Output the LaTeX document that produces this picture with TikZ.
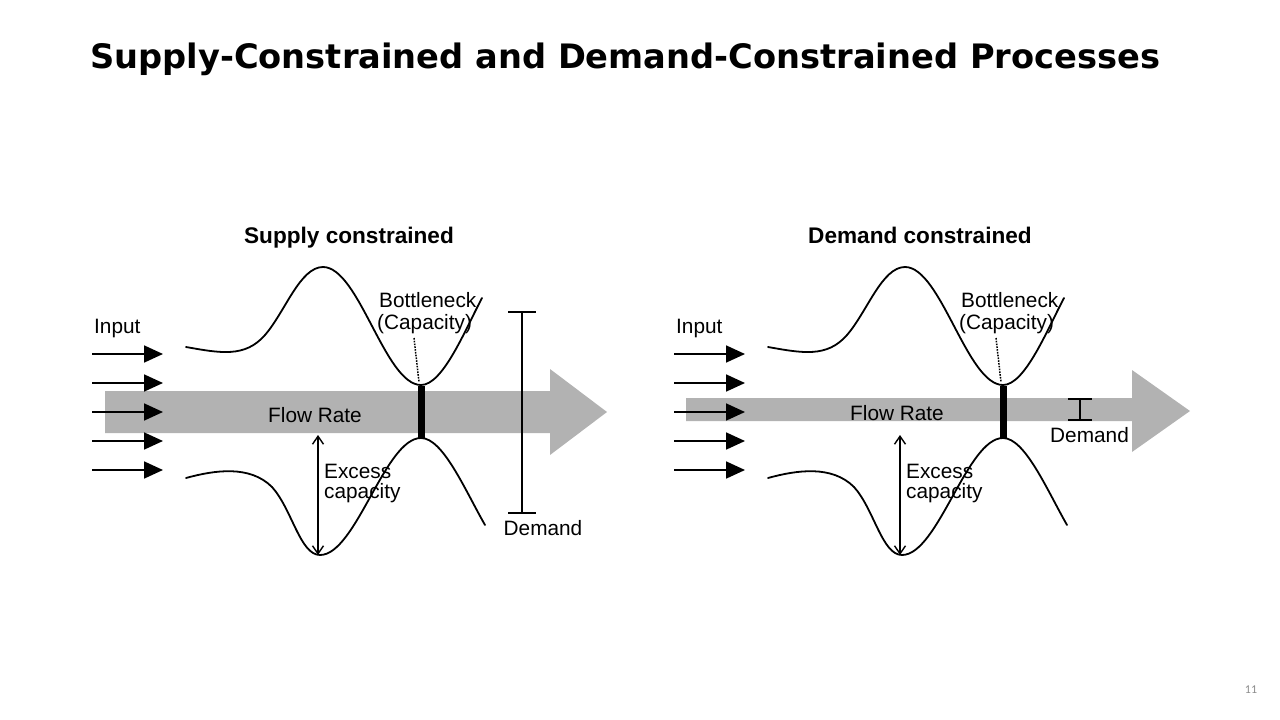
\documentclass[tikz,border=0pt]{standalone}
\usepackage{graphicx}
\usepackage{fontspec}
\setmainfont{Liberation Sans}
\newfontfamily\titlefont{DejaVu Sans}
\newfontfamily\numfont{Carlito}
\usetikzlibrary{arrows.meta}
\definecolor{flowgray}{RGB}{178,178,178}
\definecolor{pagegray}{RGB}{140,140,140}
\tikzset{
  lbl/.style={inner sep=0pt, font=\fontsize{20.8}{24}\selectfont},
  subttl/.style={anchor=base, inner sep=0pt, font=\bfseries\fontsize{22.6}{26}\selectfont},
  curve/.style={line width=1.8pt, line join=round, line cap=round},
  inarrow/.style={line width=1.8pt, -{Triangle[length=19pt,width=17pt]}},
  flowshape/.style={fill=flowgray, draw=none},
  barrier/.style={line width=7pt},
  dotline/.style={line width=1.5pt, dash pattern=on 1.6pt off 1.2pt},
  dblarrow/.style={line width=1.4pt, {Straight Barb[length=8pt,width=11pt]}-{Straight Barb[length=8pt,width=11pt]}},
  demandbar/.style={line width=1.8pt},
}
\begin{document}
\begin{tikzpicture}[x=1pt,y=-1pt]
\useasboundingbox (0,0) rectangle (1280,720);
% title
\node[anchor=base west, inner sep=0pt] (title) at (90,68.5)
  {\resizebox{1070pt}{!}{\titlefont\bfseries\fontsize{32}{38}\selectfont Supply-Constrained and Demand-Constrained Processes}};
\node[subttl] (stL) at (349,243) {Supply constrained};
\node[subttl] (stR) at (920,243) {Demand constrained};
% flow arrows
\fill[flowshape] (105,391) -- (550,391) -- (550,369) -- (607,412) -- (550,455) -- (550,433) -- (105,433) -- cycle;
\fill[flowshape] (686,398) -- (1132,398) -- (1132,370) -- (1190,411) -- (1132,452) -- (1132,421) -- (686,421) -- cycle;
\node[lbl, anchor=base] (flowL) at (315,422) {Flow Rate};
\node[lbl, anchor=base] (flowR) at (897,420) {Flow Rate};
% common parts of both panels
\foreach \off/\p in {0/L,582/R}{
\begin{scope}[xshift=\off pt]
  \foreach \yy [count=\k] in {354,383,412,441,470}{
    \coordinate (\p in\k s) at (92,\yy);
    \coordinate (\p in\k e) at (163,\yy);
    \draw[inarrow] (\p in\k s) -- (\p in\k e);
  }
  \node[lbl, anchor=base west] (\p input) at (94,333) {Input};
  % walls
  \draw[curve] (186,347) .. controls (220,353) and (245,358) .. (265,335)
     .. controls (285,312) and (300,267) .. (323,267)
     .. controls (359,267) and (385,385) .. (421,385)
     .. controls (443,385) and (465,330) .. (482,298);
  \draw[curve] (186,478) .. controls (215,470) and (250,465) .. (272,487)
     .. controls (292,509) and (300,555) .. (320,555)
     .. controls (356,555) and (385,438) .. (421,438)
     .. controls (443,438) and (465,490) .. (485,525);
  % bottleneck
  \coordinate (\p bt) at (421,386);
  \coordinate (\p bb) at (421,439);
  \draw[barrier] (\p bt) -- (\p bb);
  \node[lbl, anchor=base west] (\p bn1) at (379,307) {Bottleneck};
  \node[lbl, anchor=base west] (\p bn2) at (377,329) {(Capacity)};
  \coordinate (\p dot1) at (414,338);
  \coordinate (\p dot2) at (419,382);
  \draw[dotline] (\p dot1) -- (\p dot2);
  % excess capacity
  \coordinate (\p ex1) at (318,435);
  \coordinate (\p ex2) at (318,555);
  \draw[dblarrow] (\p ex1) -- (\p ex2);
  \node[lbl, anchor=base west] (\p exc1) at (324,478) {Excess};
  \node[lbl, anchor=base west] (\p exc2) at (324,498) {capacity};
\end{scope}
}
% demand, left
\coordinate (dLt) at (522,312);
\coordinate (dLb) at (522,513);
\draw[demandbar] (dLt) -- (dLb);
\draw[demandbar] ([xshift=-14pt]dLt) -- ([xshift=14pt]dLt);
\draw[demandbar] ([xshift=-14pt]dLb) -- ([xshift=14pt]dLb);
\node[lbl, anchor=base] (demL) at (543,535) {Demand};
% demand, right
\coordinate (dRt) at (1080,399);
\coordinate (dRb) at (1080,420);
\draw[demandbar] (dRt) -- (dRb);
\draw[demandbar] ([xshift=-12pt]dRt) -- ([xshift=12pt]dRt);
\draw[demandbar] ([xshift=-12pt]dRb) -- ([xshift=12pt]dRb);
\node[lbl, anchor=base west] (demR) at (1050,442) {Demand};
% page number
\node[inner sep=0pt, font=\numfont\fontsize{12}{14}\selectfont, text=pagegray] (pg) at (1251,690) {11};
\end{tikzpicture}
\end{document}
